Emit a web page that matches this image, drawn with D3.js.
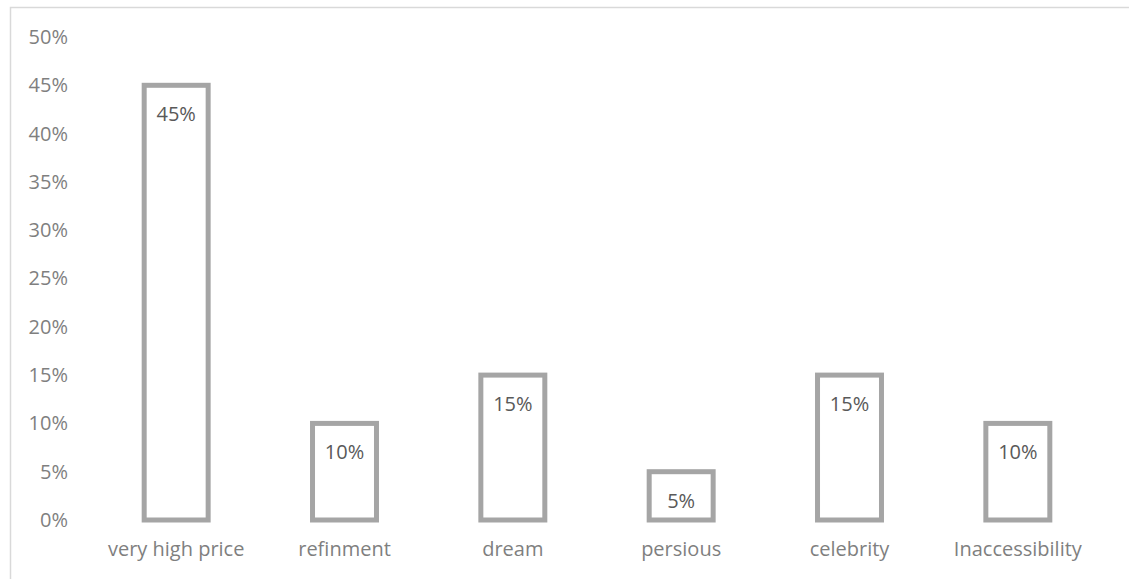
<!DOCTYPE html>
<html>
<head>
<meta charset="utf-8">
<script src="https://cdn.jsdelivr.net/npm/d3@7"></script>
<style>
  body { margin: 0; background: #fff; }
  text { font-family: "Open Sans", sans-serif; }
</style>
</head>
<body>
<script>
var categories = ['very high price', 'refinment', 'dream', 'persious', 'celebrity', 'Inaccessibility'];
var values = [0.45, 0.10, 0.15, 0.05, 0.15, 0.10];
var yTicks = [0, 0.05, 0.10, 0.15, 0.20, 0.25, 0.30, 0.35, 0.40, 0.45, 0.50];

var width = 1129, height = 579;

var svg = d3.select('body').append('svg')
    .attr('width', width)
    .attr('height', height);

// chart frame
svg.append('rect')
    .attr('x', 10.5).attr('y', 7.5)
    .attr('width', 1140).attr('height', 600)
    .attr('fill', 'none')
    .attr('stroke', '#d9d9d9')
    .attr('stroke-width', 1.5);

var x = d3.scaleBand().domain(categories).range([92, 1102]).paddingInner(0.62).paddingOuter(0.31);
var y = d3.scaleLinear().domain([0, 0.5]).range([520, 37]);

// y axis labels only, no line
var yAxis = svg.append('g')
    .attr('transform', 'translate(68,0)')
    .call(d3.axisLeft(y).tickValues(yTicks).tickFormat(d3.format('.0%')).tickSize(0).tickPadding(0));
yAxis.select('.domain').remove();
yAxis.selectAll('text')
    .attr('fill', '#7f7f7f')
    .attr('font-size', '20px');

// category labels
var xAxis = svg.append('g')
    .attr('transform', 'translate(0,556)')
    .call(d3.axisBottom(x).tickSize(0).tickPadding(0));
xAxis.select('.domain').remove();
xAxis.selectAll('text')
    .attr('fill', '#7f7f7f')
    .attr('font-size', '20px')
    .attr('dy', '0');

// bars
svg.append('g').selectAll('rect').data(values)
    .enter().append('rect')
    .attr('x', function(d, i) { return x(categories[i]); })
    .attr('y', function(d) { return y(d); })
    .attr('width', x.bandwidth())
    .attr('height', function(d) { return y(0) - y(d); })
    .attr('fill', '#ffffff')
    .attr('stroke', '#a5a5a5')
    .attr('stroke-width', 5);

// data labels
svg.append('g').selectAll('text').data(values)
    .enter().append('text')
    .attr('text-anchor', 'middle')
    .attr('x', function(d, i) { return x(categories[i]) + x.bandwidth() / 2; })
    .attr('y', function(d) { return y(d) + 36; })
    .attr('fill', '#595959')
    .attr('font-size', '20px')
    .text(function(d) { return d3.format('.0%')(d); });
</script>
</body>
</html>
